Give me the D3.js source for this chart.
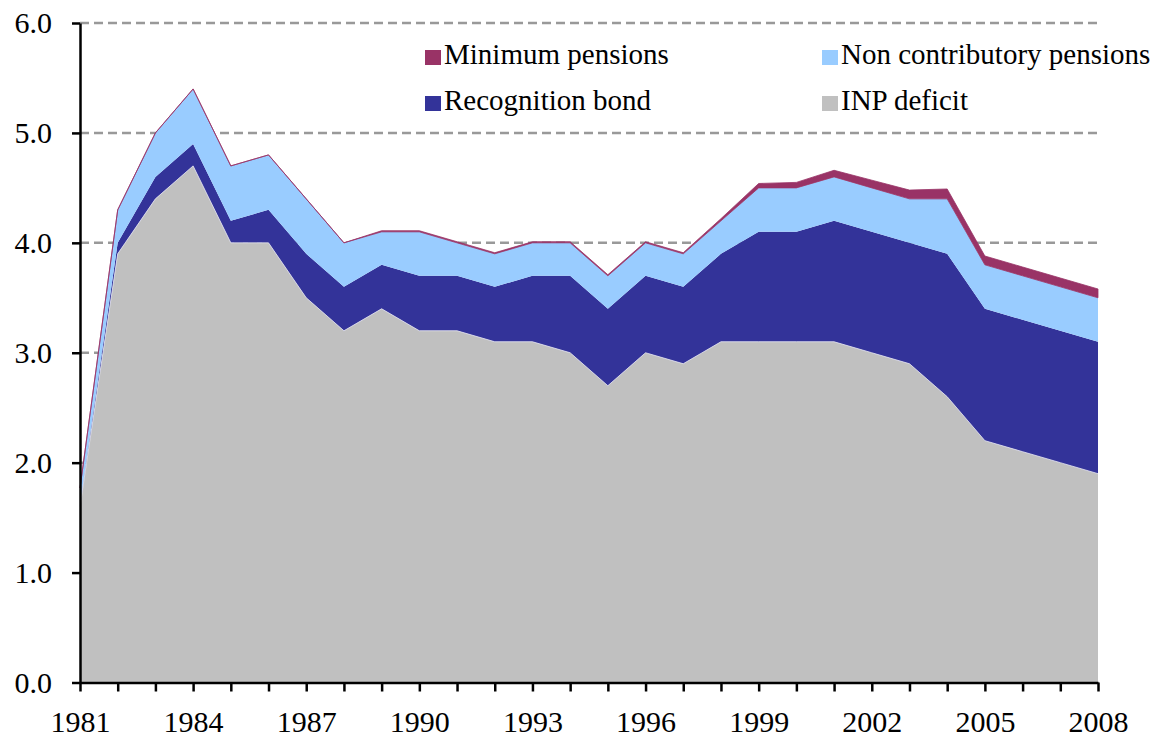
<!doctype html>
<html lang="en">
<head>
  <meta charset="utf-8">
  <title>Pension deficit components</title>
  <script src="https://cdn.jsdelivr.net/npm/d3@7"></script>
  <style>
    body { margin: 0; background: #fff; }
    .axis path, .axis line { stroke: #000; stroke-width: 2.5; }
    .grid line { stroke: #999; stroke-width: 2.5; stroke-dasharray: 9 5; }
  </style>
</head>
<body>
<div id="chart"></div>
<script>
  const serif = '"Liberation Serif", "DejaVu Serif", serif';

  // categories
  const years = [1981, 1982, 1983, 1984, 1985, 1986, 1987, 1988, 1989, 1990,
    1991, 1992, 1993, 1994, 1995, 1996, 1997, 1998, 1999, 2000,
    2001, 2002, 2003, 2004, 2005, 2006, 2007, 2008];

  // series values (% of GDP)
  const inpDeficit = [1.6, 3.9, 4.4, 4.7, 4.0, 4.0, 3.5, 3.2, 3.4, 3.2,
    3.2, 3.1, 3.1, 3.0, 2.7, 3.0, 2.9, 3.1, 3.1, 3.1,
    3.1, 3.0, 2.9, 2.6, 2.2, 2.1, 2.0, 1.9];
  const recognitionBond = [0.02, 0.1, 0.2, 0.2, 0.2, 0.3, 0.4, 0.4, 0.4, 0.5,
    0.5, 0.5, 0.6, 0.7, 0.7, 0.7, 0.7, 0.8, 1.0, 1.0,
    1.1, 1.1, 1.1, 1.3, 1.2, 1.2, 1.2, 1.2];
  const nonContributory = [0.15, 0.3, 0.4, 0.5, 0.5, 0.5, 0.5, 0.4, 0.3, 0.4,
    0.3, 0.3, 0.3, 0.3, 0.3, 0.3, 0.3, 0.3, 0.4, 0.4,
    0.4, 0.4, 0.4, 0.5, 0.4, 0.4, 0.4, 0.4];
  const minimumPensions = [0, 0, 0, 0, 0, 0, 0, 0, 0.01, 0.01,
    0.01, 0.01, 0.01, 0.01, 0.01, 0.01, 0.01, 0.02, 0.04, 0.05,
    0.06, 0.07, 0.08, 0.09, 0.08, 0.08, 0.08, 0.08];

  const yTicks = [0, 1, 2, 3, 4, 5, 6];
  const xLabelYears = [1981, 1984, 1987, 1990, 1993, 1996, 1999, 2002, 2005, 2008];

  const keys = ['inp', 'bond', 'nonContrib', 'minimum'];
  const colors = { inp: '#c0c0c0', bond: '#333399', nonContrib: '#99ccff', minimum: '#993366' };

  // legend entries, in the order they appear (row by row)
  const legendItems = [
    { key: 'minimum', label: 'Minimum pensions' },
    { key: 'nonContrib', label: 'Non contributory pensions' },
    { key: 'bond', label: 'Recognition bond' },
    { key: 'inp', label: 'INP deficit' }
  ];

  const rows = years.map((yr, i) => ({
    year: yr,
    inp: inpDeficit[i],
    bond: recognitionBond[i],
    nonContrib: nonContributory[i],
    minimum: minimumPensions[i]
  }));

  const width = 1153, height = 738;
  const svg = d3.select('#chart').append('svg')
    .attr('width', width)
    .attr('height', height);

  const x = d3.scaleLinear().domain([1981, 2008]).range([80, 1098]);
  const y = d3.scaleLinear().domain([0, 6]).range([682.5, 23]);

  // gridlines behind the areas
  svg.append('g')
    .attr('class', 'grid')
    .selectAll('line')
    .data(yTicks.filter(d => d > 0))
    .join('line')
    .attr('x1', x(1981))
    .attr('x2', x(2008))
    .attr('y1', d => y(d))
    .attr('y2', d => y(d));

  const series = d3.stack().keys(keys)(rows);

  const area = d3.area()
    .x(d => x(d.data.year))
    .y0(d => y(d[0]))
    .y1(d => y(d[1]));

  svg.append('g')
    .selectAll('path')
    .data(series)
    .join('path')
    .attr('d', area)
    .attr('fill', d => colors[d.key])
    .attr('stroke', d => d.key === 'minimum' ? colors.minimum : 'none')
    .attr('stroke-width', 1)
    .attr('stroke-opacity', 0.8);

  // faint light edge on top of the grey area
  svg.append('path')
    .datum(series[0])
    .attr('d', d3.line().x(d => x(d.data.year)).y(d => y(d[1])))
    .attr('fill', 'none')
    .attr('stroke', '#e6e6f0')
    .attr('stroke-width', 0.8);

  // x axis
  const xAxis = svg.append('g')
    .attr('class', 'axis')
    .attr('transform', `translate(0,${y(0)})`)
    .call(d3.axisBottom(x)
      .tickValues(years)
      .tickSize(9)
      .tickPadding(19)
      .tickSizeOuter(0)
      .tickFormat(d => xLabelYears.includes(d) ? d : ''));
  xAxis.selectAll('text')
    .style('font-family', serif)
    .style('font-size', '30px')
    .attr('fill', '#000');

  // y axis
  const yAxis = svg.append('g')
    .attr('class', 'axis')
    .attr('transform', `translate(${x(1981)},0)`)
    .call(d3.axisLeft(y)
      .tickValues(yTicks)
      .tickSize(8)
      .tickPadding(20)
      .tickSizeOuter(0)
      .tickFormat(d3.format('.1f')));
  yAxis.selectAll('text')
    .style('font-family', serif)
    .style('font-size', '30px')
    .attr('fill', '#000');

  // legend
  const legend = svg.append('g')
    .selectAll('g')
    .data(legendItems)
    .join('g')
    .attr('transform', (d, i) => `translate(${i % 2 === 0 ? 425 : 822},${i < 2 ? 50 : 96})`);

  legend.append('rect')
    .attr('width', 16)
    .attr('height', 15)
    .attr('fill', d => colors[d.key]);

  legend.append('text')
    .attr('x', 19)
    .attr('y', 14)
    .style('font-family', serif)
    .style('font-size', '29px')
    .text(d => d.label);
</script>
</body>
</html>
